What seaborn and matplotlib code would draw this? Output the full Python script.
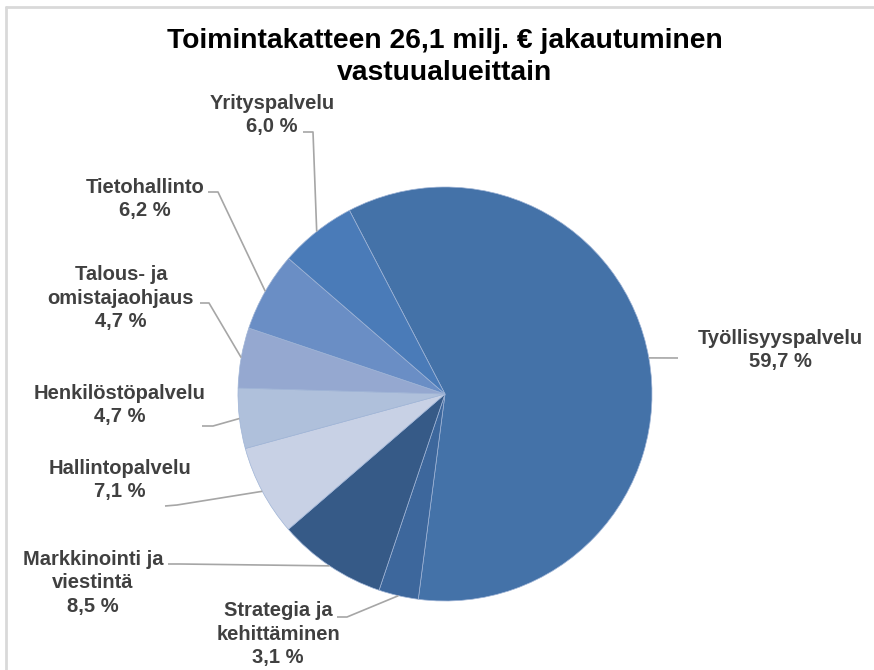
import numpy as np
import matplotlib
matplotlib.use("Agg")
import matplotlib.pyplot as plt
import seaborn as sns

# data
categories = ["Työllisyyspalvelu", "Strategia ja\nkehittäminen", "Markkinointi ja\nviestintä",
              "Hallintopalvelu", "Henkilöstöpalvelu", "Talous- ja\nomistajaohjaus",
              "Tietohallinto", "Yrityspalvelu"]
shares = [59.7, 3.1, 8.5, 7.1, 4.7, 4.7, 6.2, 6.0]
colors = ["#4472A8", "#3D679C", "#365A87", "#C8D1E5", "#AFC0DB", "#95A8D0", "#6A8EC5", "#4A7BB8"]
title = "Toimintakatteen 26,1 milj. € jakautuminen\nvastuualueittain"

sns.set_theme(style="white")
plt.rcParams["font.family"] = ["Liberation Sans", "DejaVu Sans"]

W, H = 874, 670
cx, cy, R = 445, 394, 207  # pie centre / radius in pixels

fig = plt.figure(figsize=(W / 100, H / 100), dpi=100)
ax = fig.add_axes([0, 0, 1, 1])

def px(x, y):
    return ((x - cx) / R, (cy - y) / R)

wedges, _ = ax.pie(shares, colors=colors, startangle=90 + 27.5, counterclock=False,
                   radius=1, wedgeprops=dict(linewidth=0.5, edgecolor="#9FB4D6"))
ax.set_aspect("auto")
ax.set_xlim(-cx / R, (W - cx) / R)
ax.set_ylim(-(H - cy) / R, cy / R)
ax.axis("off")

# label layout: text centre and elbow of leader line (pixels)
label_pos = [(780, 350), (278, 634), (93, 583), (120, 480), (120, 405), (121, 298), (145, 199), (272, 115)]
elbows = [[(678, 358)], [(337, 617), (347, 617)], [(168, 564), (180, 564)], [(165, 506), (177, 505)],
          [(202, 426), (213, 426)], [(200, 303), (209, 303)], [(208, 192), (218, 192)], [(303, 132), (313, 132)]]

for w, cat, val, pos, elb in zip(wedges, categories, shares, label_pos, elbows):
    mid = np.deg2rad((w.theta1 + w.theta2) / 2)
    edge = (np.cos(mid), np.sin(mid))
    pts = [px(*p) for p in elb] + [edge]
    xs, ys = zip(*pts)
    ax.plot(xs, ys, color="#A6A6A6", lw=1.2, solid_capstyle="butt")
    tx, ty = px(*pos)
    ax.text(tx, ty, f"{cat}\n{str(val).replace('.', ',')} %", ha="center", va="center",
            fontsize=14.5, fontweight="bold", color="#404040", linespacing=1.3)

fig.text(445 / W, 1 - 57 / H, title, ha="center", va="center", fontsize=20.3,
         fontweight="bold", color="black", linespacing=1.25)

# chart frame (top and left edges visible)
fig.add_artist(plt.Line2D([6 / W, 1], [1 - 7 / H, 1 - 7 / H], color="#D9D9D9", lw=2, transform=fig.transFigure))
fig.add_artist(plt.Line2D([6 / W, 6 / W], [0, 1 - 7 / H], color="#D9D9D9", lw=2, transform=fig.transFigure))

fig.savefig("out.png", dpi=100, facecolor="white")
